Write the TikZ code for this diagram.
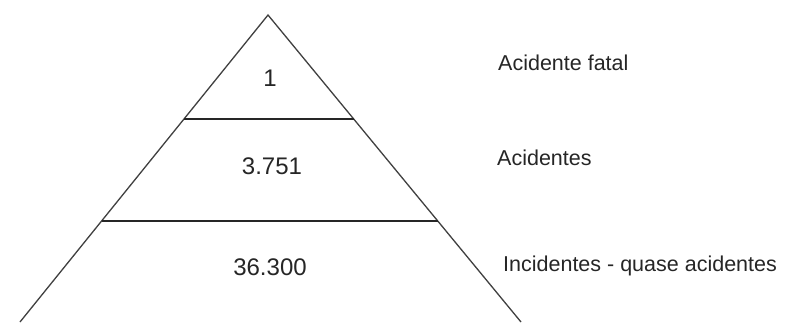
\documentclass[tikz,border=0pt]{standalone}
\usepackage{fontspec}
\setmainfont{Liberation Sans}
\usetikzlibrary{calc}
\begin{document}
\begin{tikzpicture}[x=1pt,y=-1pt,
  side/.style={line width=1.3pt,draw=black!75},
  level/.style={line width=1.5pt,draw=black!85},
  num/.style={inner sep=0pt,font=\fontsize{24}{28}\selectfont,text=black!85},
  lab/.style={inner sep=0pt,anchor=west,font=\fontsize{21.5}{26}\selectfont,text=black!85}]
\useasboundingbox[fill=white] (0,0) rectangle (785,322);
\coordinate (apex) at (268,15);
\coordinate (bl) at (20,322);
\coordinate (br) at (521,322);
\coordinate (l1) at ($(apex)!0.3388!(bl)$);
\coordinate (r1) at ($(apex)!0.3388!(br)$);
\coordinate (l2) at ($(apex)!0.6710!(bl)$);
\coordinate (r2) at ($(apex)!0.6710!(br)$);
\draw[side] (bl) -- (apex) -- (br);
\draw[level] (l1) -- (r1);
\draw[level] (l2) -- (r2);
\node[num] (n1) at (270,78) {1};
\node[num] (n2) at (272,166) {3.751};
\node[num] (n3) at (270,267) {36.300};
\node[lab] (t1) at (498,63) {Acidente fatal};
\node[lab] (t2) at (497,158) {Acidentes};
\node[lab] (t3) at (503,266) {Incidentes - quase acidentes};
\end{tikzpicture}
\end{document}
